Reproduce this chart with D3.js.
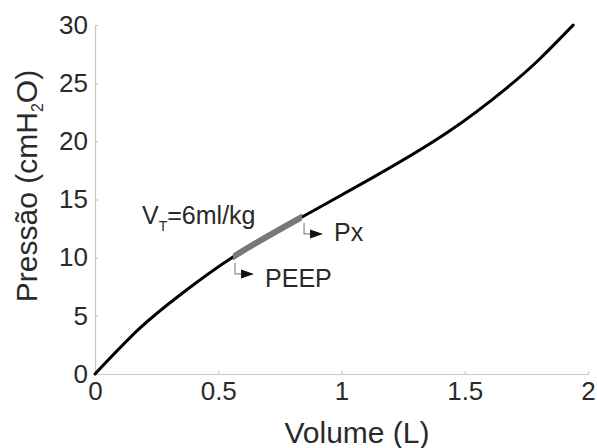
<!DOCTYPE html>
<html>
<head>
<meta charset="utf-8">
<script src="https://cdn.jsdelivr.net/npm/d3@7"></script>
<style>
  html, body { margin: 0; padding: 0; background: #fff; }
  svg { display: block; font-family: "Liberation Sans", Arial, Helvetica, sans-serif; }
</style>
</head>
<body>
<svg id="chart" width="597" height="448"></svg>
<script>
// ---- data ----
const volume   = [0, 0.183, 0.35, 0.56, 0.84, 1.128, 1.432, 1.671, 1.805, 1.94];
const pressure = [0, 3.96, 6.88, 10.06, 13.5, 16.9, 20.8, 24.6, 27.1, 30.0];
const xTicks = [0, 0.5, 1, 1.5, 2];
const xTickLabels = ["0", "0.5", "1", "1.5", "2"];
const yTicks = [0, 5, 10, 15, 20, 25, 30];
const yTickLabels = ["0", "5", "10", "15", "20", "25", "30"];
const vtStart = 0.56;   // PEEP volume
const vtEnd = 0.84;     // Px volume
const peepPressure = 10.06;
const pxPressure = 13.5;

// ---- layout ----
const svg = d3.select("#chart");
const mLeft = 95, mRight = 588, mTop = 25, mBottom = 374;
const x = d3.scaleLinear().domain([0, 2]).range([mLeft, mRight]);
const y = d3.scaleLinear().domain([0, 30]).range([mBottom, mTop]);
const axisColor = "#c8c8c8";
const textColor = "#2a2a2a";

// axes
const xAxis = d3.axisBottom(x).tickValues(xTicks).tickFormat((d, i) => xTickLabels[i]).tickSizeInner(-3).tickSizeOuter(0).tickPadding(8);
const gx = svg.append("g").attr("transform", `translate(0,${mBottom})`).call(xAxis);
gx.select(".domain").attr("stroke", axisColor).attr("stroke-width", 1.2);
gx.selectAll(".tick line").attr("stroke", axisColor).attr("stroke-width", 1.2);
gx.selectAll(".tick text").attr("fill", textColor).attr("font-size", 26).attr("font-family", "Liberation Sans, Arial, sans-serif");

const yAxis = d3.axisLeft(y).tickValues(yTicks).tickFormat((d, i) => yTickLabels[i]).tickSizeInner(-3).tickSizeOuter(0).tickPadding(7);
const gy = svg.append("g").attr("transform", `translate(${mLeft},0)`).call(yAxis);
gy.select(".domain").attr("stroke", axisColor).attr("stroke-width", 1.2);
gy.selectAll(".tick line").attr("stroke", axisColor).attr("stroke-width", 1.2);
gy.selectAll(".tick text").attr("fill", textColor).attr("font-size", 26).attr("font-family", "Liberation Sans, Arial, sans-serif");

// axis titles
svg.append("text")
  .attr("x", 357).attr("y", 443)
  .attr("text-anchor", "middle")
  .attr("font-size", 30).attr("fill", textColor)
  .text("Volume (L)");

const yt = svg.append("text")
  .attr("transform", "translate(37,186) rotate(-90)")
  .attr("text-anchor", "middle")
  .attr("font-size", 30).attr("fill", textColor);
yt.append("tspan").text("Pressão (cmH");
yt.append("tspan").attr("font-size", 16).attr("dy", 6).text("2");
yt.append("tspan").attr("dy", -6).text("O)");

// curve
const pts = volume.map((v, i) => [v, pressure[i]]);
const line = d3.line().x(d => x(d[0])).y(d => y(d[1])).curve(d3.curveNatural);
svg.append("path").datum(pts)
  .attr("d", line).attr("fill", "none")
  .attr("stroke", "#000").attr("stroke-width", 3).attr("stroke-linecap", "round");

// tidal volume segment: same curve, clipped to [vtStart, vtEnd]
svg.append("clipPath").attr("id", "vtclip")
  .append("rect")
  .attr("x", x(vtStart)).attr("y", 0)
  .attr("width", x(vtEnd) - x(vtStart)).attr("height", 448);
svg.append("path").datum(pts)
  .attr("d", line).attr("fill", "none")
  .attr("clip-path", "url(#vtclip)")
  .attr("stroke", "#777").attr("stroke-width", 6);

// VT label
const vt = svg.append("text").attr("x", 142).attr("y", 224).attr("font-size", 25).attr("fill", textColor);
vt.append("tspan").text("V");
vt.append("tspan").attr("font-size", 14).attr("dy", 7).text("T");
vt.append("tspan").attr("dy", -7).text("=6ml/kg");

// pointer annotations
function pointer(px, py, label, textDy) {
  const g = svg.append("g");
  g.append("path")
    .attr("d", `M${px + 2},${py + 6} V${py + 17} H${px + 8}`)
    .attr("fill", "none").attr("stroke", "#888").attr("stroke-width", 1.2);
  g.append("path")
    .attr("d", `M${px + 8},${py + 12.5} L${px + 21},${py + 17} L${px + 8},${py + 21.5} Z`)
    .attr("fill", "#111");
  g.append("text").attr("x", px + 32).attr("y", py + textDy)
    .attr("font-size", 25).attr("fill", textColor).text(label);
}
pointer(x(vtStart), y(peepPressure), "PEEP", 30);
pointer(x(vtEnd), y(pxPressure), "Px", 24);
</script>
</body>
</html>
